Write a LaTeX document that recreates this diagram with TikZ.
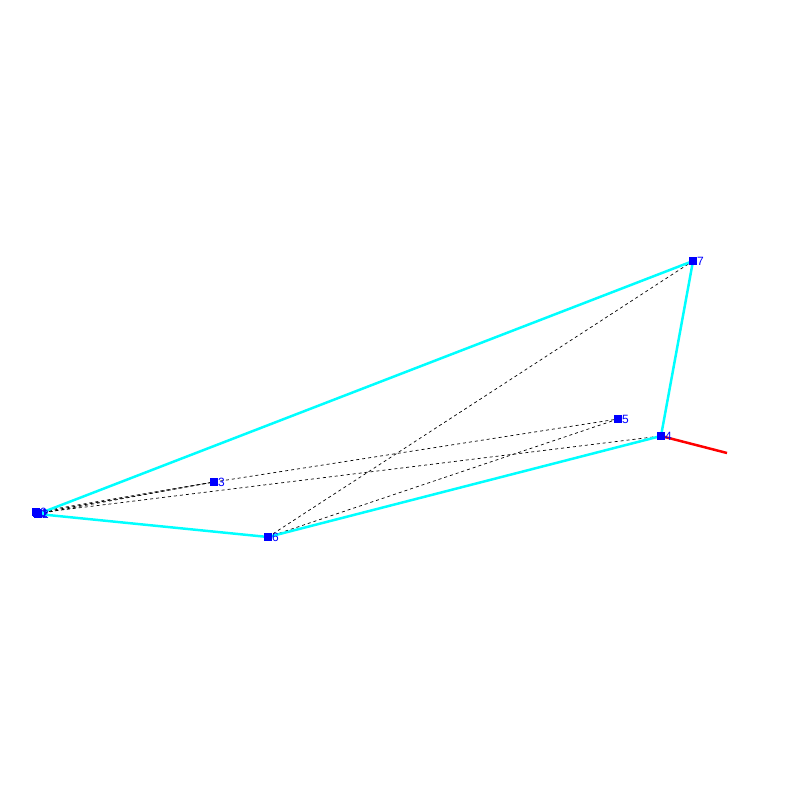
\documentclass[tikz,border=0pt]{standalone}
\usepackage{fontspec}
\setmainfont{Liberation Sans}
\begin{document}
\begin{tikzpicture}[x=1pt,y=-1pt,
  pt/.style={fill={rgb,255:red,0;green,0;blue,255},inner sep=0pt,minimum size=7.5pt},
  lbl/.style={text={rgb,255:red,0;green,0;blue,255},font=\fontsize{12}{12}\selectfont,inner sep=0pt,anchor=west},
  edge/.style={draw={rgb,255:red,0;green,255;blue,255},line width=2.5pt},
  dline/.style={draw=black,line width=0.7pt,dash pattern=on 3pt off 3pt}]
\useasboundingbox (0,0) rectangle (800,800);
\coordinate (p0) at (36,512);
\coordinate (p1) at (37,513);
\coordinate (p2) at (38,514);
\coordinate (p3) at (214,482);
\coordinate (p4) at (661,436);
\coordinate (p5) at (618,419);
\coordinate (p6) at (268,537);
\coordinate (p7) at (693,261);
\coordinate (r) at (727,453);
% dashed
\draw[dline] (p0) -- (p3);
\draw[dline] (p1) -- (p3);
\draw[dline] (p2) -- (p3);
\draw[dline] (p1) -- (p4);
\draw[dline] (p3) -- (p5);
\draw[dline] (p6) -- (p5);
\draw[dline] (p6) -- (p7);
% cyan
\draw[edge] (p2) -- (p7) -- (p4) -- (p6) -- cycle;
\draw[draw=red,line width=2.5pt] (p4) -- (r);
% points
\foreach \i in {0,...,7} {
  \node[pt] (n\i) at (p\i) {};
}
\node[lbl] (l0) at ([xshift=4pt]p0) {0};
\node[lbl] (l1) at ([xshift=4pt]p1) {1};
\node[lbl] (l2) at ([xshift=4pt]p2) {2};
\node[lbl] (l3) at ([xshift=4pt]p3) {3};
\node[lbl] (l4) at ([xshift=4pt]p4) {4};
\node[lbl] (l5) at ([xshift=4pt]p5) {5};
\node[lbl] (l6) at ([xshift=4pt]p6) {6};
\node[lbl] (l7) at ([xshift=4pt]p7) {7};
\end{tikzpicture}
\end{document}
